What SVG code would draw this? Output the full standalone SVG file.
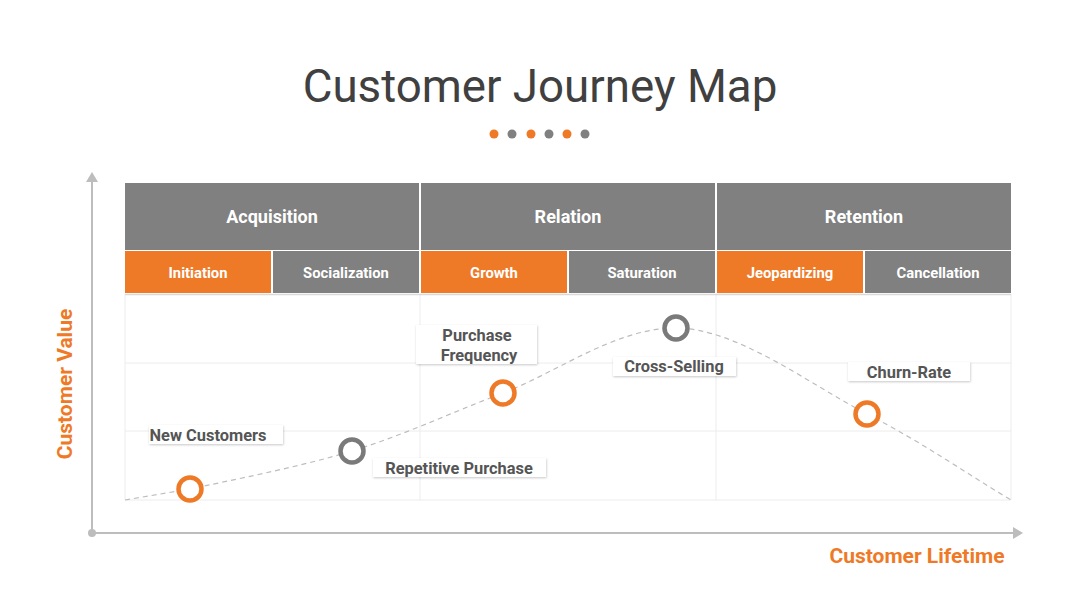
<svg xmlns="http://www.w3.org/2000/svg" width="1080" height="608" viewBox="0 0 1080 608">
<defs>
<style>
.title{font-family:Roboto,"Liberation Sans",sans-serif;font-size:45.7px;fill:#404040}
.hdr{font-family:Roboto,"Liberation Sans",sans-serif;font-weight:bold;font-size:18px;fill:#fff;text-anchor:middle}
.sub{font-family:Roboto,"Liberation Sans",sans-serif;font-weight:bold;font-size:14.8px;fill:#fff;text-anchor:middle}
.lbl{font-family:Roboto,"Liberation Sans",sans-serif;font-weight:bold;font-size:16.4px;fill:#555;text-anchor:middle}
.axl{font-family:Roboto,"Liberation Sans",sans-serif;font-weight:bold;font-size:21px;fill:#EE7A27;text-anchor:middle}
.gray{fill:#808080}
.org{fill:#EE7A27}
.grid{stroke:#ECECEC;stroke-width:1;fill:none}
.box{fill:#fff;filter:url(#sh)}
.ptO{fill:#fff;stroke:#EE7A27;stroke-width:4.5}
.ptG{fill:#fff;stroke:#7A7A7A;stroke-width:4.5}
</style>
<filter id="sh" x="-10%" y="-30%" width="120%" height="170%">
<feDropShadow dx="0.5" dy="1" stdDeviation="1.2" flood-color="#000" flood-opacity="0.22"/>
</filter>
</defs>
<rect width="1080" height="608" fill="#fff"/>
<text class="title" x="540" y="102" text-anchor="middle">Customer Journey Map</text>
<g id="dots">
<circle cx="494" cy="134" r="4.5" class="org"/>
<circle cx="512" cy="134" r="4.5" class="gray"/>
<circle cx="531" cy="134" r="4.5" class="org"/>
<circle cx="549" cy="134" r="4.5" class="gray"/>
<circle cx="567" cy="134" r="4.5" class="org"/>
<circle cx="585" cy="134" r="4.5" class="gray"/>
</g>
<g id="grid">
<line class="grid" x1="125" y1="294" x2="125" y2="500"/>
<line class="grid" x1="420" y1="294" x2="420" y2="500"/>
<line class="grid" x1="716" y1="294" x2="716" y2="500"/>
<line class="grid" x1="1011" y1="294" x2="1011" y2="500"/>
<line class="grid" x1="125" y1="363" x2="1011" y2="363"/>
<line class="grid" x1="125" y1="431" x2="1011" y2="431"/>
<line class="grid" x1="125" y1="500" x2="1011" y2="500"/>
<line x1="125" y1="294.5" x2="1011" y2="294.5" stroke="#DADADA" stroke-width="1.5"/>
</g>
<g id="header">
<rect class="gray" x="125" y="183" width="294" height="67"/>
<rect class="gray" x="421" y="183" width="294" height="67"/>
<rect class="gray" x="717" y="183" width="294" height="67"/>
<text class="hdr" x="272" y="223">Acquisition</text>
<text class="hdr" x="568" y="223">Relation</text>
<text class="hdr" x="864" y="223">Retention</text>
<rect class="org" x="125" y="251" width="146" height="42"/>
<rect class="gray" x="273" y="251" width="146" height="42"/>
<rect class="org" x="421" y="251" width="146" height="42"/>
<rect class="gray" x="569" y="251" width="146" height="42"/>
<rect class="org" x="717" y="251" width="146" height="42"/>
<rect class="gray" x="865" y="251" width="146" height="42"/>
<text class="sub" x="198" y="277.5">Initiation</text>
<text class="sub" x="346" y="277.5">Socialization</text>
<text class="sub" x="494" y="277.5">Growth</text>
<text class="sub" x="642" y="277.5">Saturation</text>
<text class="sub" x="790" y="277.5">Jeopardizing</text>
<text class="sub" x="938" y="277.5">Cancellation</text>
</g>
<g id="axes">
<line x1="92" y1="180" x2="92" y2="533" stroke="#BDBDBD" stroke-width="2"/>
<polygon points="92,172 86,182 98,182" fill="#BDBDBD"/>
<line x1="92" y1="533" x2="1014" y2="533" stroke="#BDBDBD" stroke-width="2"/>
<polygon points="1023,533 1013,527 1013,539" fill="#BDBDBD"/>
<circle cx="92" cy="533" r="4" fill="#BDBDBD"/>
<text class="axl" transform="translate(72,384) rotate(-90)">Customer Value</text>
<text class="axl" x="917" y="563">Customer Lifetime</text>
</g>
<g id="connectors">
<path d="M125,500 C146.7,496.3 168.3,492.7 190,489 C227.8,480.8 299.8,467 352,451 C404.2,435 449,413.5 503,393 C557,372.5 615.3,328 676,328 C736.7,328 811.2,385.3 867,414 C922.8,442.7 963,471.3 1011,500" fill="none" stroke="#BDBDBD" stroke-width="1.2" stroke-dasharray="5,4"/>
</g>
<g id="n-new-customers">
<circle class="ptO" cx="190" cy="489" r="11.5"/>
<rect class="box" x="149" y="425" width="134" height="19"/>
<text class="lbl" x="208" y="441">New Customers</text>
</g>
<g id="n-repetitive-purchase">
<circle class="ptG" cx="352" cy="451" r="11.5"/>
<rect class="box" x="373" y="458" width="173" height="19"/>
<text class="lbl" x="459" y="474">Repetitive Purchase</text>
</g>
<g id="n-purchase-frequency">
<circle class="ptO" cx="503" cy="393" r="11.5"/>
<rect class="box" x="416" y="325" width="121" height="39"/>
<text class="lbl" x="477" y="341">Purchase</text>
<text class="lbl" x="479" y="361">Frequency</text>
</g>
<g id="n-cross-selling">
<circle class="ptG" cx="676" cy="328" r="11.5"/>
<rect class="box" x="613" y="357" width="123" height="19"/>
<text class="lbl" x="674" y="372">Cross-Selling</text>
</g>
<g id="n-churn-rate">
<circle class="ptO" cx="867" cy="414" r="11.5"/>
<rect class="box" x="848" y="362" width="122" height="19"/>
<text class="lbl" x="909" y="378">Churn-Rate</text>
</g>
</svg>
